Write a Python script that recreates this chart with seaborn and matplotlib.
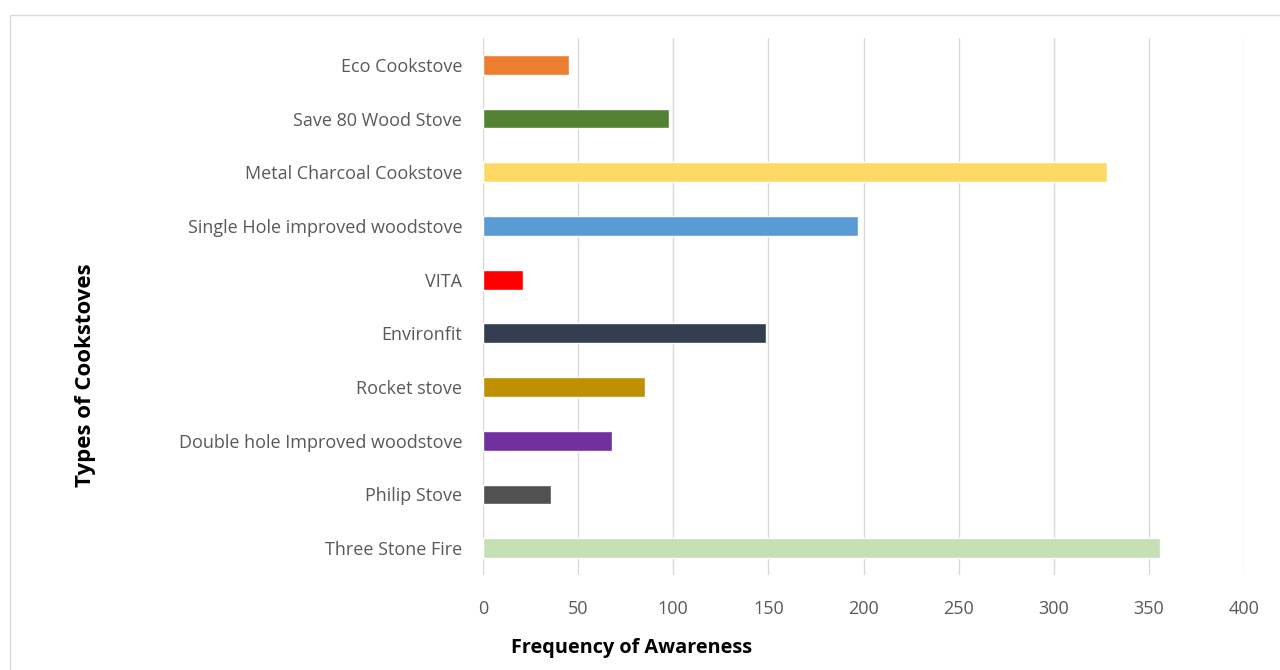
import matplotlib
matplotlib.use("Agg")
import matplotlib.pyplot as plt
import seaborn as sns
import pandas as pd
from matplotlib.patches import Rectangle

categories = ["Eco Cookstove", "Save 80 Wood Stove", "Metal Charcoal Cookstove",
              "Single Hole improved woodstove", "VITA", "Environfit", "Rocket stove",
              "Double hole Improved woodstove", "Philip Stove", "Three Stone Fire"]
values = [45, 98, 328, 197, 21, 149, 85, 68, 36, 356]
colors = ["#ED7D31", "#548235", "#FFD966", "#5B9BD5", "#FF0000", "#333F50",
          "#BF9000", "#7030A0", "#515151", "#C5E0B4"]
xticks = [0, 50, 100, 150, 200, 250, 300, 350, 400]

sns.set_theme(style="white")
plt.rcParams['font.family'] = ['Open Sans', 'DejaVu Sans']

df = pd.DataFrame({"cat": categories, "val": values})
fig = plt.figure(figsize=(12.8, 6.7), dpi=100)
W, H = 1280, 670
ax = fig.add_axes([483 / W, 1 - 575 / H, (1244 - 483) / W, (575 - 38) / H])

sns.barplot(data=df, x="val", y="cat", hue="cat", order=categories,
            palette=dict(zip(categories, colors)), orient="h", width=0.37,
            saturation=1, legend=False, ax=ax)

ax.set_xlim(0, 400)
ax.set_ylim(9.5, -0.5)
ax.set_xticks(xticks)
ax.set_xticklabels([str(t) for t in xticks])
ax.grid(axis="x", color="#D9D9D9", linewidth=1)
ax.set_axisbelow(True)
for s in ax.spines.values():
    s.set_visible(False)
ax.tick_params(axis="x", length=0, pad=18, labelsize=13, labelcolor="#595959")
ax.tick_params(axis="y", length=0, pad=15, labelsize=13, labelcolor="#595959")
ax.set_xlabel("")
ax.set_ylabel("")

fig.text(632 / W, 1 - 648 / H, "Frequency of Awareness", ha="center", va="center",
         fontsize=14.3, fontweight="bold", color="black")
fig.text(85 / W, 1 - 375 / H, "Types of Cookstoves", ha="center", va="center",
         rotation=90, fontsize=16, fontweight="bold", color="black")

fig.patches.append(Rectangle((10 / W, -0.1), 1.2, 1 - 15 / H + 0.1,
                             transform=fig.transFigure, fill=False,
                             edgecolor="#D9D9D9", linewidth=1))

fig.savefig("out.png", dpi=100)
